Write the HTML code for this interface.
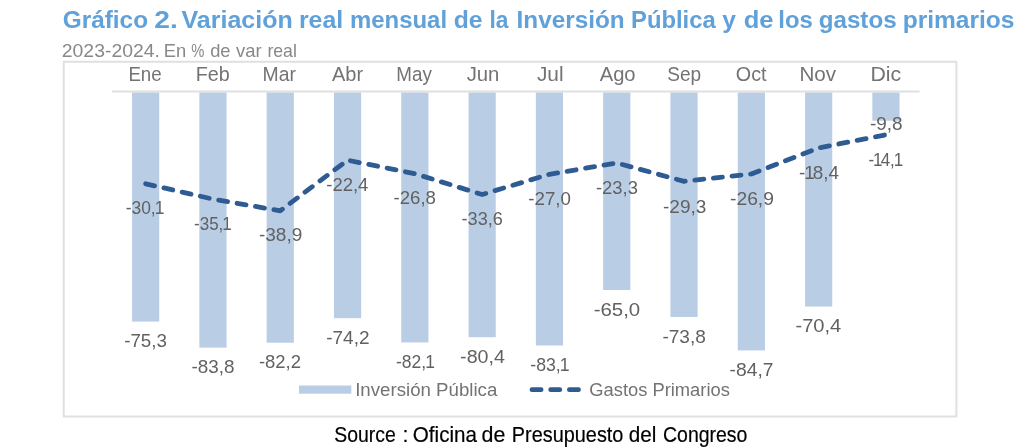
<!DOCTYPE html>
<html><head><meta charset="utf-8"><style>
html,body{margin:0;padding:0;background:#fff;width:1023px;height:447px;overflow:hidden}
svg{display:block;position:absolute;left:0;top:0;will-change:transform}
text{font-family:"Liberation Sans",sans-serif}
.m{font-size:19.5px;fill:#737373}
.d{font-size:17.5px;fill:#616161}
.lg{font-size:18.5px;fill:#737373}
.t{font-size:24px;font-weight:bold;fill:#5fa1d8}
.s{font-size:17.5px;fill:#888888}
.src{font-size:21.5px;fill:#000;stroke:#000;stroke-width:0.2px}
</style></head><body>
<svg width="1023" height="447" viewBox="0 0 1023 447">
<rect x="63.7" y="61.8" width="892.7" height="354.8" fill="none" stroke="#e0e0e0" stroke-width="2" stroke-linejoin="round"/>
<rect x="132.05" y="92.4" width="27.2" height="229.17" fill="#b9cde5"/>
<rect x="199.35" y="92.4" width="27.2" height="255.23" fill="#b9cde5"/>
<rect x="266.65" y="92.4" width="27.2" height="250.33" fill="#b9cde5"/>
<rect x="333.95" y="92.4" width="27.2" height="225.8" fill="#b9cde5"/>
<rect x="401.25" y="92.4" width="27.2" height="250.02" fill="#b9cde5"/>
<rect x="468.55" y="92.4" width="27.2" height="244.81" fill="#b9cde5"/>
<rect x="535.85" y="92.4" width="27.2" height="253.08" fill="#b9cde5"/>
<rect x="603.15" y="92.4" width="27.2" height="197.59" fill="#b9cde5"/>
<rect x="670.45" y="92.4" width="27.2" height="224.57" fill="#b9cde5"/>
<rect x="737.75" y="92.4" width="27.2" height="257.99" fill="#b9cde5"/>
<rect x="805.05" y="92.4" width="27.2" height="214.15" fill="#b9cde5"/>
<rect x="872.35" y="92.4" width="27.2" height="28.35" fill="#b9cde5"/>
<line x1="112" y1="91.6" x2="919.6" y2="91.6" stroke="#e0e0e0" stroke-width="2"/>
<path d="M145.65,183.79 L212.95,199.12 L280.25,210.77 L347.55,160.18 L414.85,173.67 L482.15,194.52 L549.45,174.28 L616.75,162.94 L684.05,181.33 L751.35,173.98 L818.65,147.91 L885.95,134.73" fill="none" stroke="#2f5b93" stroke-width="4.8" stroke-linecap="round" stroke-linejoin="round" stroke-dasharray="9.1 9.6"/>
<rect x="299" y="385.5" width="52.3" height="8.2" fill="#b9cde5"/>
<line x1="532" y1="389.7" x2="578.6" y2="389.7" stroke="#2f5b93" stroke-width="4.8" stroke-linecap="round" stroke-dasharray="9.1 9.6"/>
<text class="t" transform="translate(62.68,27.7) scale(1.0159,1)">Gráfico</text>
<text class="t" transform="translate(154.32,27.7) scale(1.1765,1)">2.</text>
<text class="t" transform="translate(181.46,27.7) scale(1.0433,1)">Variación</text>
<text class="t" transform="translate(298.93,27.7) scale(1.0359,1)">real</text>
<text class="t" transform="translate(349.9,27.7) scale(0.9978,1)">mensual</text>
<text class="t" transform="translate(453.77,27.7) scale(1.0308,1)">de</text>
<text class="t" transform="translate(489.4,27.7) scale(0.9500,1)">la</text>
<text class="t" transform="translate(516.57,27.7) scale(1.0136,1)">Inversión</text>
<text class="t" transform="translate(631.01,27.7) scale(0.9928,1)">Pública</text>
<text class="t" transform="translate(722.27,27.7) scale(1.0250,1)">y</text>
<text class="t" transform="translate(743.63,27.7) scale(1.0654,1)">de</text>
<text class="t" transform="translate(778.31,27.7) scale(0.9935,1)">los</text>
<text class="t" transform="translate(818.69,27.7) scale(1.0080,1)">gastos</text>
<text class="t" transform="translate(902.65,27.7) scale(1.0236,1)">primarios</text>
<text class="s" transform="translate(61.79,56.8) scale(1.1081,1)">2023-2024.</text>
<text class="s" transform="translate(163.7,56.8) scale(1.0500,1)">En</text>
<text class="s" transform="translate(191.36,56.8) scale(0.8429,1)">%</text>
<text class="s" transform="translate(210.15,56.8) scale(1.0471,1)">de</text>
<text class="s" transform="translate(236,56.8) scale(1.0583,1)">var</text>
<text class="s" transform="translate(267.39,56.8) scale(1.0111,1)">real</text>
<text class="src" transform="translate(334.3,441.5) scale(0.9030,1)">Source</text>
<text class="src" transform="translate(402.4,441.5) scale(1.0000,1)">:</text>
<text class="src" transform="translate(412.84,441.5) scale(0.9591,1)">Oficina</text>
<text class="src" transform="translate(481.6,441.5) scale(0.9955,1)">de</text>
<text class="src" transform="translate(511.77,441.5) scale(0.9252,1)">Presupuesto</text>
<text class="src" transform="translate(628.74,441.5) scale(0.9630,1)">del</text>
<text class="src" transform="translate(662.99,441.5) scale(0.9065,1)">Congreso</text>
<text class="m" transform="translate(128.38,80.7) scale(0.9594,1)">Ene</text>
<text class="m" transform="translate(195.67,80.7) scale(1.0129,1)">Feb</text>
<text class="m" transform="translate(262.61,80.7) scale(0.9935,1)">Mar</text>
<text class="m" transform="translate(332,80.7) scale(1.0267,1)">Abr</text>
<text class="m" transform="translate(396.27,80.7) scale(0.9647,1)">May</text>
<text class="m" transform="translate(466.66,80.7) scale(1.0414,1)">Jun</text>
<text class="m" transform="translate(536.93,80.7) scale(1.0682,1)">Jul</text>
<text class="m" transform="translate(599.7,80.7) scale(1.0353,1)">Ago</text>
<text class="m" transform="translate(667.22,80.7) scale(0.9788,1)">Sep</text>
<text class="m" transform="translate(735.79,80.7) scale(1.0138,1)">Oct</text>
<text class="m" transform="translate(799.49,80.7) scale(1.0562,1)">Nov</text>
<text class="m" transform="translate(870.42,80.7) scale(1.0920,1)">Dic</text>
<text class="lg" transform="translate(355.18,396.4) scale(1.0094,1)">Inversión Pública</text>
<text class="lg" transform="translate(589.31,396.3) scale(0.9914,1)">Gastos Primarios</text>
<text class="d" transform="translate(124.13,346.9) scale(1.0737,1)">-75,3</text>
<text class="d" transform="translate(191.42,373.2) scale(1.0789,1)">-83,8</text>
<text class="d" transform="translate(258.94,367.8) scale(1.0553,1)">-82,2</text>
<text class="d" transform="translate(326.22,343.5) scale(1.0842,1)">-74,2</text>
<text class="d" transform="translate(396,367.8) scale(1.0000,1)">-82,<tspan dx="-1">1</tspan></text>
<text class="d" transform="translate(460.08,362.8) scale(1.1237,1)">-80,4</text>
<text class="d" transform="translate(530.29,370.5) scale(1.0108,1)">-83,<tspan dx="-1">1</tspan></text>
<text class="d" transform="translate(593.63,315.8) scale(1.1684,1)">-65,0</text>
<text class="d" transform="translate(662.41,343) scale(1.0895,1)">-73,8</text>
<text class="d" transform="translate(729.6,375.6) scale(1.1026,1)">-84,7</text>
<text class="d" transform="translate(795.45,331.9) scale(1.1500,1)">-70,4</text>
<text class="d" transform="translate(869.92,129.5) scale(1.0821,1)">-9,8</text>
<text class="d" transform="translate(125.71,214.3) scale(0.9946,1)">-30,<tspan dx="-1">1</tspan></text>
<text class="d" transform="translate(194.03,229.6) scale(0.9730,1)">-35,<tspan dx="-1">1</tspan></text>
<text class="d" transform="translate(258.91,241.1) scale(1.0868,1)">-38,9</text>
<text class="d" transform="translate(326.24,190.6) scale(1.0579,1)">-22,4</text>
<text class="d" transform="translate(393.54,203.7) scale(1.0632,1)">-26,8</text>
<text class="d" transform="translate(461.56,225.4) scale(1.0368,1)">-33,6</text>
<text class="d" transform="translate(528.23,204.7) scale(1.0711,1)">-27,0</text>
<text class="d" transform="translate(595.95,193.9) scale(1.0526,1)">-23,3</text>
<text class="d" transform="translate(663.02,212.7) scale(1.0842,1)">-29,3</text>
<text class="d" transform="translate(730,204.9) scale(1.1026,1)">-26,9</text>
<text class="d" transform="translate(799.12,178.9) scale(1.0800,1)">-<tspan dx="-1">1</tspan><tspan dx="-2">8</tspan>,4</text>
<text class="d" transform="translate(868.43,165.6) scale(0.9735,1)">-<tspan dx="-1">1</tspan><tspan dx="-2">4</tspan>,<tspan dx="-1">1</tspan></text>
</svg>
</body></html>
